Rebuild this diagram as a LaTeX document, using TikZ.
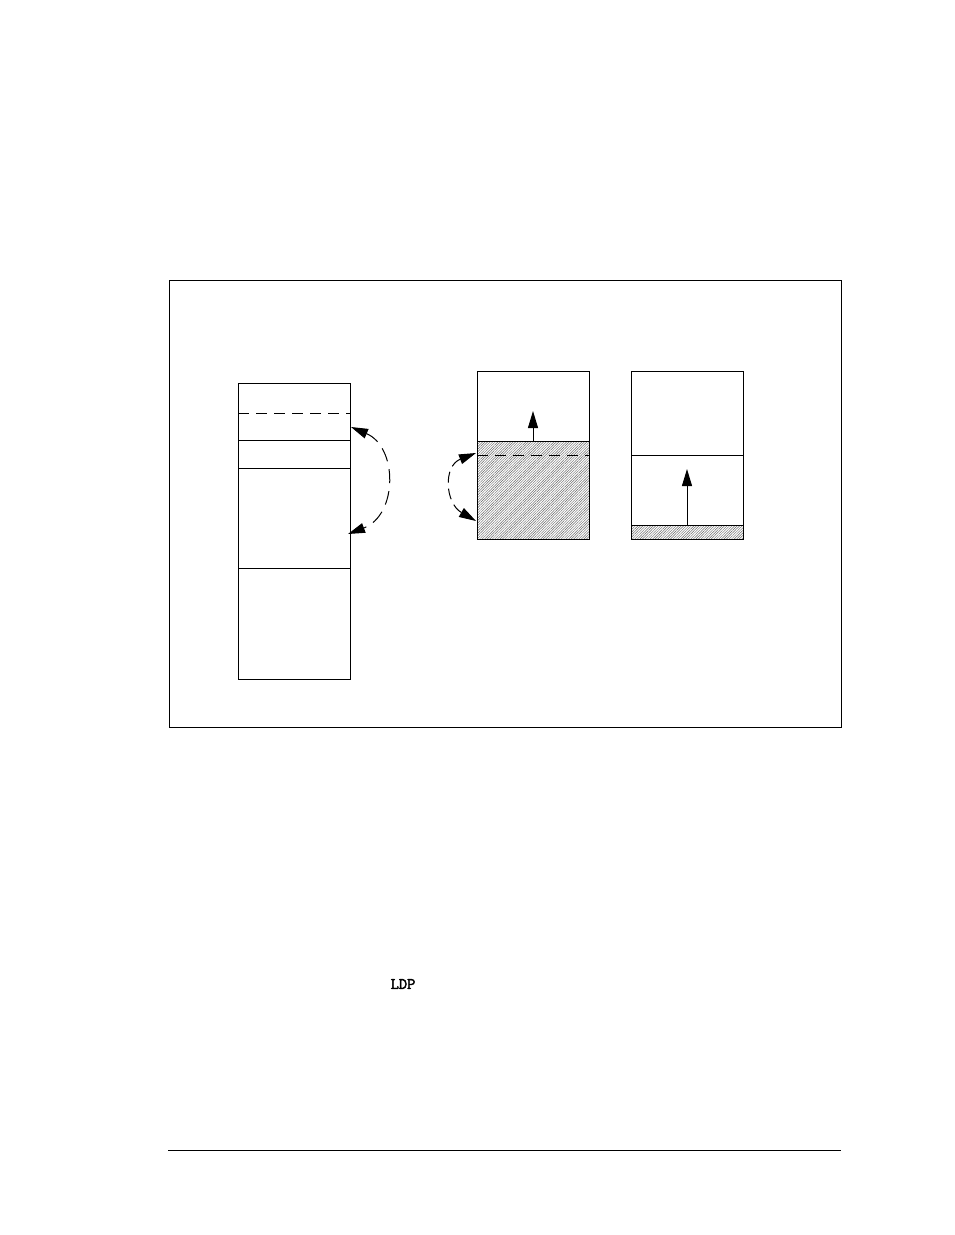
\documentclass[tikz,border=0pt]{standalone}
\usepackage{fontspec}
\newfontfamily\ldpfont[FakeBold=2.5]{Latin Modern Mono}
\usetikzlibrary{arrows.meta,patterns.meta}
\begin{document}
\begin{tikzpicture}[x=1pt,y=-1pt,line width=1pt,
  box/.style={draw,black,line width=1pt},
  dashline/.style={draw,dash pattern=on 11pt off 7pt},
  hatch/.style={pattern={Lines[angle=45,distance=1.8pt,line width=0.45pt]},pattern color=black!60},
  tip/.style={-{Triangle[length=17pt,width=10pt]}},
  tips/.style={{Triangle[length=17pt,width=10pt]}-{Triangle[length=17pt,width=10pt]}}]
\useasboundingbox (0,0) rectangle (954,1235);
% outer frame
\draw[box] (169,280) rectangle (841,727);
% left column
\coordinate (L1) at (238,383); \coordinate (L2) at (350,679);
\draw[box] (L1) rectangle (L2);
\draw[dashline] (238,413) -- (350,413);
\draw (238,440) -- (350,440);
\draw (238,468) -- (350,468);
\draw (238,568) -- (350,568);
\coordinate (la) at (351,427);
\coordinate (lb) at (348,534);
\draw[tips,dash pattern=on 14pt off 8pt] (la) .. controls (398,447) and (398,515) .. (lb);
% middle box
\fill[hatch] (477,441) rectangle (589,539);
\draw[box] (477,371) rectangle (589,539);
\draw (477,441) -- (589,441);
\draw[dashline] (477,455) -- (589,455);
\coordinate (ma) at (533,441);
\coordinate (mb) at (533,411);
\draw[tip] (ma) -- (mb);
\coordinate (ca) at (476,453);
\coordinate (cb) at (476,521);
\draw[tips,dash pattern=on 11pt off 6pt] (ca) .. controls (443,466) and (445,503) .. (cb);
% right box
\fill[hatch] (631,525) rectangle (743,539);
\draw[box] (631,371) rectangle (743,539);
\draw (631,455) -- (743,455);
\draw (631,525) -- (743,525);
\coordinate (ra) at (687,525);
\coordinate (rb) at (687,469);
\draw[tip] (ra) -- (rb);
% text
\node[font=\ldpfont\fontsize{16}{18}\selectfont,inner sep=0pt] (ldp) at (403,984) {LDP};
% bottom rule
\draw (168,1150) -- (841,1150);
\end{tikzpicture}
\end{document}
